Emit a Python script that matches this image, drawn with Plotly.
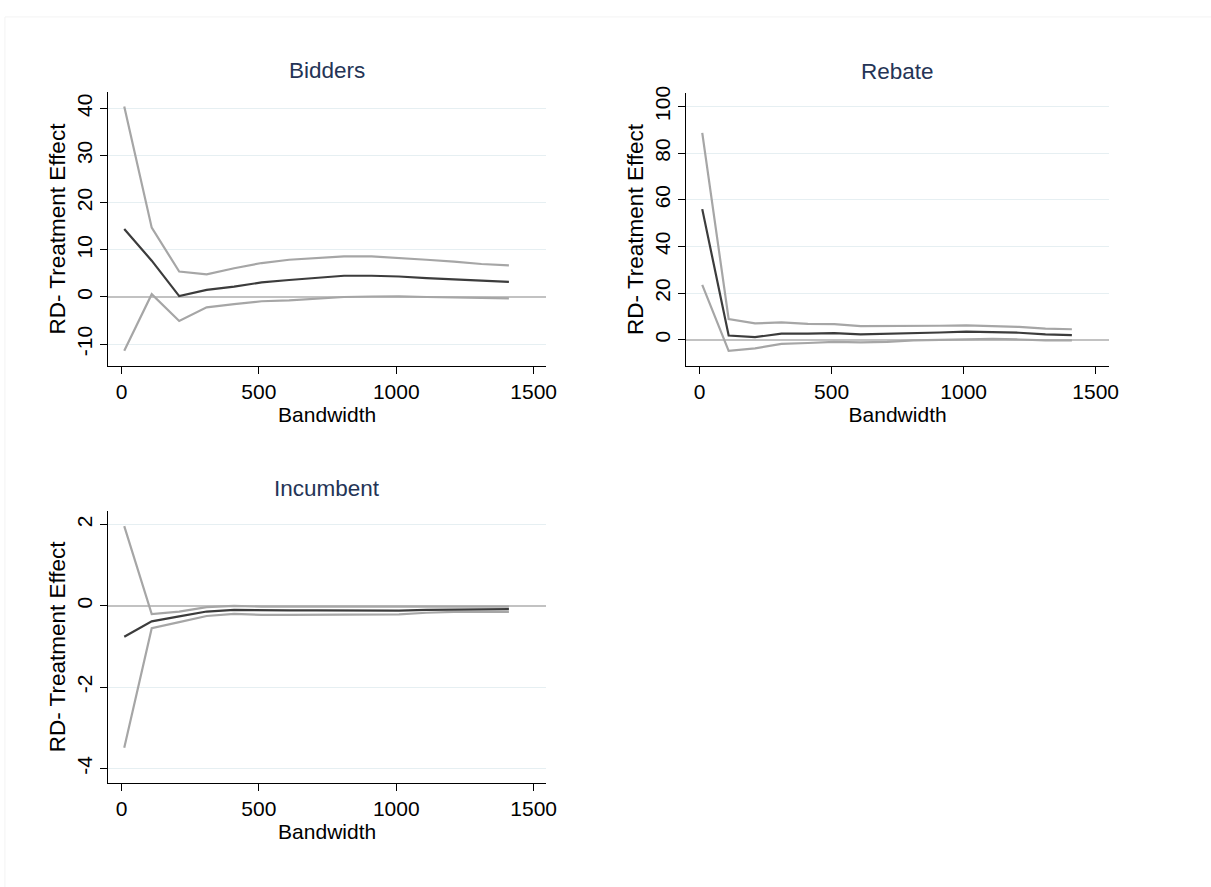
import plotly.graph_objects as go

# Bandwidths at which the RD estimate was computed
bandwidth = [10, 110, 210, 310, 410, 510, 610, 710, 810, 910, 1010, 1110, 1210, 1310, 1410]

# Bidders: point estimate with upper / lower confidence bounds
bidders_est = [14.4, 7.7, 0.2, 1.5, 2.2, 3.1, 3.6, 4.0, 4.5, 4.5, 4.35, 4.0, 3.7, 3.4, 3.2]
bidders_hi = [40.4, 14.7, 5.4, 4.8, 6.1, 7.2, 7.9, 8.2, 8.6, 8.6, 8.3, 7.9, 7.5, 7.0, 6.7]
bidders_lo = [-11.4, 0.6, -5.1, -2.2, -1.5, -0.9, -0.7, -0.4, 0.0, 0.1, 0.15, 0.0, -0.1, -0.3, -0.3]

# Rebate
rebate_est = [56.0, 1.8, 1.1, 2.6, 2.6, 2.8, 2.3, 2.5, 2.8, 3.1, 3.5, 3.4, 3.0, 2.3, 2.0]
rebate_hi = [88.7, 8.9, 7.0, 7.4, 6.8, 6.7, 5.8, 5.8, 6.0, 6.0, 6.2, 6.0, 5.5, 4.8, 4.5]
rebate_lo = [23.5, -4.8, -3.7, -1.8, -1.4, -0.9, -1.1, -0.9, -0.3, 0.0, 0.4, 0.4, 0.1, -0.3, -0.3]

# Incumbent
incumbent_est = [-0.76, -0.38, -0.26, -0.14, -0.10, -0.11, -0.11, -0.11, -0.11, -0.12, -0.12, -0.10, -0.09, -0.08, -0.08]
incumbent_hi = [1.96, -0.20, -0.14, -0.03, 0.0, -0.02, -0.02, -0.02, -0.02, -0.03, -0.03, -0.02, -0.02, -0.02, -0.02]
incumbent_lo = [-3.49, -0.55, -0.40, -0.25, -0.20, -0.22, -0.22, -0.22, -0.22, -0.21, -0.21, -0.17, -0.15, -0.15, -0.15]

panel_titles = ["Bidders", "Rebate", "Incumbent"]
y_tickvals = [
    [-10, 0, 10, 20, 30, 40],
    [0, 20, 40, 60, 80, 100],
    [-4, -2, 0, 2],
]
x_tickvals = [0, 500, 1000, 1500]

W, H = 1211, 887
FONT = "Liberation Sans, Arial, sans-serif"
CI_COLOR = "#a6a6a6"
EST_COLOR = "#3c3c3c"
TITLE_COLOR = "#243456"

# panel placement in pixels: (left, right, top, bottom)
boxes = [
    (109.3, 551.0, 86.0, 361.7),
    (692.7, 1119.0, 86.7, 361.7),
    (109.3, 551.0, 507.7, 782.3),
]
y_ranges = [[-14.6, 43.4], [-11.2, 105.8], [-4.36, 2.34]]
x_ranges = [[-48, 1545], [-50, 1550], [-48, 1545]]

series = [
    (bidders_est, bidders_hi, bidders_lo),
    (rebate_est, rebate_hi, rebate_lo),
    (incumbent_est, incumbent_hi, incumbent_lo),
]

fig = go.Figure()
layout = dict(
    width=W, height=H,
    margin=dict(l=0, r=0, t=0, b=0),
    paper_bgcolor="white", plot_bgcolor="white",
    showlegend=False,
    font=dict(family=FONT, color="#000000"),
    annotations=[],
    shapes=[],
)

for i, ((est, hi, lo), (l, r, t, b)) in enumerate(zip(series, boxes)):
    n = "" if i == 0 else str(i + 1)
    xa, ya = "x" + n, "y" + n
    for vals, col in ((hi, CI_COLOR), (lo, CI_COLOR), (est, EST_COLOR)):
        fig.add_trace(go.Scatter(
            x=bandwidth, y=vals, mode="lines", xaxis=xa, yaxis=ya,
            line=dict(color=col, width=2.2), hoverinfo="skip",
        ))
    layout["xaxis" + n] = dict(
        domain=[l / W, r / W], anchor=ya, range=x_ranges[i],
        tickvals=x_tickvals, ticks="outside", ticklen=7, tickwidth=1.3,
        tickcolor="#000", showline=True, linecolor="#000", linewidth=1.3,
        showgrid=False, zeroline=False,
        tickfont=dict(size=21, family=FONT),
        title=dict(text="Bandwidth", font=dict(size=21, family=FONT), standoff=0),
    )
    layout["yaxis" + n] = dict(
        domain=[1 - b / H, 1 - t / H], anchor=xa, range=y_ranges[i],
        tickvals=y_tickvals[i], ticktext=[str(v) for v in y_tickvals[i]],
        tickangle=-90,
        ticks="outside", ticklen=7, tickwidth=1.3, tickcolor="#000",
        showline=True, linecolor="#000", linewidth=1.3,
        showgrid=True, gridcolor="#e6eff2", gridwidth=1.2,
        zeroline=True, zerolinecolor="#c2c2c2", zerolinewidth=1.6,
        tickfont=dict(size=21, family=FONT),
        title=dict(text="RD- Treatment Effect", font=dict(size=22.5, family=FONT), standoff=0),
    )
    layout["annotations"].append(dict(
        text=panel_titles[i], x=(l + r) / 2 / W, y=1 - (t - 22) / H,
        xref="paper", yref="paper", xanchor="center", yanchor="middle",
        showarrow=False, font=dict(size=22.5, family=FONT, color=TITLE_COLOR),
    ))

# faint outer frame around the graph region
layout["shapes"].append(dict(
    type="rect", xref="paper", yref="paper",
    x0=5 / W, x1=1.02, y0=-0.02, y1=1 - 10 / H,
    line=dict(color="#f3f3f3", width=1), fillcolor="rgba(0,0,0,0)", layer="below",
))

fig.update_layout(**layout)
fig.write_html("out.html")
